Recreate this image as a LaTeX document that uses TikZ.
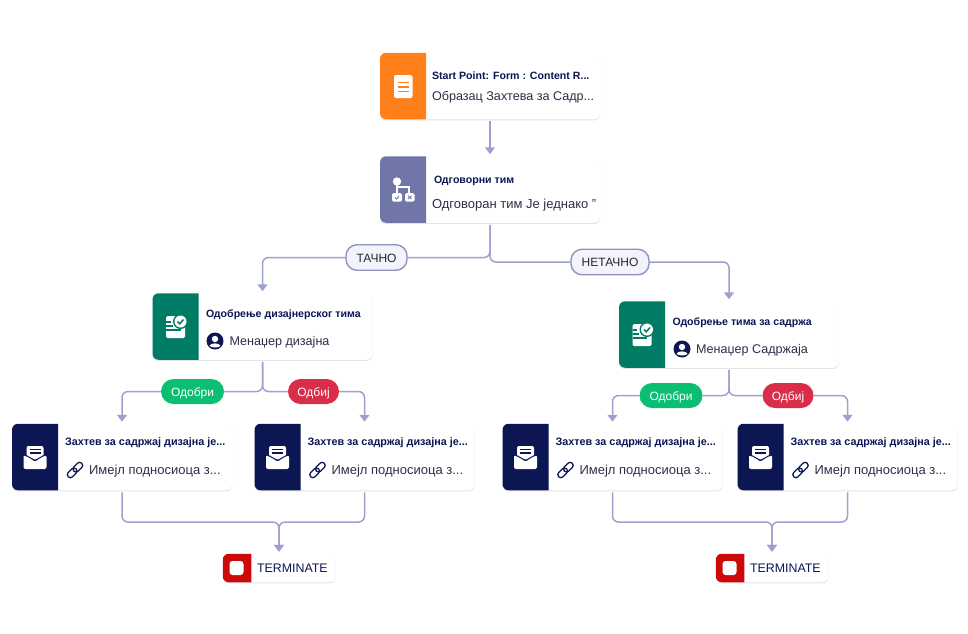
\documentclass[tikz,border=0pt]{standalone}
\usepackage{fontspec}
\setmainfont{Liberation Sans}
\usetikzlibrary{arrows.meta,shadows}
\definecolor{flowline}{HTML}{9CA1CE}
\definecolor{navy}{HTML}{0C1653}
\definecolor{subtext}{HTML}{2C3048}
\definecolor{orangepanel}{HTML}{FF7F1A}
\definecolor{slatepanel}{HTML}{7077A8}
\definecolor{tealpanel}{HTML}{007C65}
\definecolor{redpanel}{HTML}{CC0A0A}
\definecolor{okgreen}{HTML}{0ABF72}
\definecolor{nored}{HTML}{D92D4A}
\definecolor{pillfill}{HTML}{F3F3FB}
\definecolor{pillline}{HTML}{8F93BD}
\tikzset{
    %Define standard arrow tip
    >={Triangle[width=10pt,length=7pt]},
    % Define connector style
    pil/.style={
           color=flowline,
           line width=1.5pt,
           rounded corners=6pt,
           shorten <=2pt,},
    pilarrow/.style={
           pil,
           ->,
           shorten >=2pt,}
}
% left part of a card, square on its right side
\newcommand{\cardpanel}[3]{
    \fill[#3] ([xshift=#2pt]#1.north west) [sharp corners] -- ([xshift=#2pt]#1.south west)
        [rounded corners=6pt] -- (#1.south west) -- (#1.north west) [sharp corners] -- cycle;
}
% white icons, drawn round a centre
\newcommand{\approveicon}[2]{
\begin{scope}[shift={(#1,#2)}]
    \fill[white,rounded corners=1.5pt] (-9.5,-11) -- (2,-11) -- (9.5,-4) -- (9.5,11) -- (-9.5,11) -- cycle;
    \draw[tealpanel,line width=1.1pt] (-9.5,-5) -- (-5,-5) (-9.5,-1) -- (-3,-1) (-9.5,3) -- (5,3);
    \fill[tealpanel] (5,-5.5) circle (7.5);
    \fill[white] (5,-5.5) circle (6);
    \draw[tealpanel,line width=1.5pt] (2,-5.5) -- (4.2,-3.2) -- (8,-7.5);
\end{scope}
}
\newcommand{\personicon}[2]{
\begin{scope}[shift={(#1,#2)}]
    \fill[navy] (0,0) circle (8.5);
    \fill[white] (0,-2) circle (3.2);
    \fill[white] (-5.5,5) .. controls (-5,1.5) and (5,1.5) .. (5.5,5) .. controls (3,7) and (-3,7) .. (-5.5,5);
\end{scope}
}
\newcommand{\mailicon}[2]{
\begin{scope}[shift={(#1,#2)}]
    \fill[white,rounded corners=2pt] (-8.5,-11.5) rectangle (8.5,2);
    \draw[navy,line width=1.2pt] (-5.5,-8) -- (5.5,-8) (-5.5,-4.5) -- (5.5,-4.5);
    \fill[white,rounded corners=2pt] (-11.5,-2.5) -- (0,4) -- (11.5,-2.5) -- (11.5,11.5) -- (-11.5,11.5) -- cycle;
    \draw[navy,line width=1pt] (-11.5,-3.5) -- (0,3) -- (11.5,-3.5);
\end{scope}
}
\newcommand{\linkicon}[2]{
\begin{scope}[shift={(#1,#2)},rotate=45]
    \draw[navy,line width=1.3pt,rounded corners=2.8pt] (-9.5,-3) rectangle (1.5,3);
    \draw[navy,line width=1.3pt,rounded corners=2.8pt] (-1.5,-3) rectangle (9.5,3);
\end{scope}
}
% one e-mail card with its texts
\newcommand{\mailcard}[3]{
    \node[cardbox] (#1) at (#2,#3) {};
    \cardpanel{#1}{46}{navy}
    \mailicon{#2-87}{#3+0.5}
    \node[titletext, font=\fontsize{10.8pt}{11pt}\selectfont\bfseries] (#1title) at (#2-57,#3-11.5) {Захтев за садржај дизајна је...};
    \linkicon{#2-47}{#3+13}
    \node[subtitletext, font=\fontsize{13pt}{14pt}\selectfont] (#1sub) at (#2-33,#3+17.5) {Имејл подносиоца з...};
}
\newcommand{\terminatecard}[3]{
    \node[termbox] (#1) at (#2,#3) {};
    \cardpanel{#1}{28.5}{redpanel}
    \fill[white,rounded corners=3pt] (#2-49.5,#3-7) rectangle (#2-35.5,#3+7);
    \node[termtext] (#1text) at (#2-22,#3+4.5) {TERMINATE};
}

\begin{document}
\begin{tikzpicture}[x=1pt, y=-1pt, outer sep=0pt]
\tikzstyle{cardbox}=[fill=white, rectangle, rounded corners=6pt, minimum height=66.5pt, minimum width=220pt,
    inner sep=0pt, drop shadow={shadow xshift=0pt, shadow yshift=-1.2pt, opacity=0.12, fill=navy}]
%
\tikzstyle{termbox}=[cardbox, minimum height=28.5pt, minimum width=112.5pt]
%
\tikzstyle{titletext}=[anchor=base west, inner sep=0pt, text=navy, font=\fontsize{10.6pt}{11pt}\selectfont\bfseries]
%
\tikzstyle{subtitletext}=[anchor=base west, inner sep=0pt, text=subtext, font=\fontsize{12.6pt}{14pt}\selectfont]
%
\tikzstyle{termtext}=[anchor=base west, inner sep=0pt, text=navy, font=\fontsize{12.4pt}{14pt}\selectfont]
%
\tikzstyle{answerpill}=[draw=pillline, fill=pillfill, rectangle, line width=1.4pt, rounded corners=11pt,
    minimum height=25.5pt, inner sep=0pt, text height=11pt, text depth=1.5pt, text=black!85,
    font=\fontsize{12pt}{14pt}\selectfont]
%
\tikzstyle{choicepill}=[rectangle, rounded corners=12.5pt, minimum height=25pt, inner sep=0pt,
    text height=11pt, text depth=1.5pt, text=white, font=\fontsize{12pt}{14pt}\selectfont]

\useasboundingbox (0,0) rectangle (968,633);

% start and team cards
\node[cardbox] (start) at (490,86) {};
\cardpanel{start}{46}{orangepanel}
\fill[white,rounded corners=2pt] (394,75) rectangle (412.5,98);
\draw[orangepanel,line width=1.8pt] (398,82.5) -- (408.5,82.5) (398,87) -- (408.5,87) (398,91.5) -- (408.5,91.5);
\node[titletext] (starttitle) at (432,79) {Start Point: Form : Content R...};
\node[subtitletext] (startsub) at (432,100.5) {Образац Захтева за Садр...};

\node[cardbox] (team) at (490,189.5) {};
\cardpanel{team}{46}{slatepanel}
\fill[white] (397,181.5) circle (4.2);
\draw[white,line width=2pt] (397,181.5) -- (397,194) (397,187) -- (408.5,187) -- (408.5,194);
\fill[white,rounded corners=1.5pt] (392,193) rectangle (402,201.5);
\fill[white,rounded corners=1.5pt] (405,193) rectangle (414.5,201.5);
\draw[slatepanel,line width=0.9pt] (395,197.5) -- (396.5,199) -- (399,196) (408,195.8) -- (411.5,199) (411.5,195.8) -- (408,199);
\node[titletext] (teamtitle) at (434,183) {Одговорни тим};
\node[subtitletext, font=\fontsize{13pt}{14pt}\selectfont] (teamsub) at (432,208.5) {Одговоран тим Је једнако "};

% approval cards
\node[cardbox] (designapproval) at (262.5,326.5) {};
\cardpanel{designapproval}{46}{tealpanel}
\approveicon{175.5}{327}
\node[titletext] (designtitle) at (206,317) {Одобрење дизајнерског тима};
\personicon{215}{341}
\node[subtitletext] (designsub) at (229.5,345.5) {Менаџер дизајна};

\node[cardbox] (contentapproval) at (729,334.5) {};
\cardpanel{contentapproval}{46}{tealpanel}
\approveicon{642}{335}
\node[titletext] (contenttitle) at (672.5,325) {Одобрење тима за садржа};
\personicon{682}{349}
\node[subtitletext] (contentsub) at (696,353.5) {Менаџер Садржаја};

% e-mail cards
\mailcard{mailA}{122}{457}
\mailcard{mailB}{364.5}{457}
\mailcard{mailC}{612.5}{457}
\mailcard{mailD}{847.5}{457}

\terminatecard{termL}{279}{568}
\terminatecard{termR}{772}{568}

% answers on the connectors
\node[answerpill, minimum width=61pt] (truepill) at (376.5,257.5) {ТАЧНО};
\node[answerpill, minimum width=78pt] (falsepill) at (610,262) {НЕТАЧНО};
\node[choicepill, fill=okgreen, minimum width=63pt] (yesL) at (192.5,391.5) {Одобри};
\node[choicepill, fill=nored, minimum width=51pt] (noL) at (313.5,391.5) {Одбиј};
\node[choicepill, fill=okgreen, minimum width=63pt] (yesR) at (671,395.5) {Одобри};
\node[choicepill, fill=nored, minimum width=51pt] (noR) at (788,395.5) {Одбиј};

\coordinate (joinL) at (279,522);
\coordinate (joinR) at (772,522);

\draw[pilarrow] (start.south) -- (team.north);

\draw[pil] (team.south) |- (truepill.east);
\draw[pil] (team.south) |- (falsepill.west);
\draw[pilarrow,shorten <=0pt] (truepill.west) -| (designapproval.north);
\draw[pilarrow,shorten <=0pt] (falsepill.east) -| (contentapproval.north);

\draw[pil] (designapproval.south) |- (yesL.east);
\draw[pil] (designapproval.south) |- (noL.west);
\draw[pilarrow,shorten <=0pt] (yesL.west) -| (mailA.north);
\draw[pilarrow,shorten <=0pt] (noL.east) -| (mailB.north);

\draw[pil] (contentapproval.south) |- (yesR.east);
\draw[pil] (contentapproval.south) |- (noR.west);
\draw[pilarrow,shorten <=0pt] (yesR.west) -| (mailC.north);
\draw[pilarrow,shorten <=0pt] (noR.east) -| (mailD.north);

\draw[pilarrow] (mailA.south) |- (joinL) -- (termL.north);
\draw[pilarrow] (mailB.south) |- (joinL) -- (termL.north);
\draw[pilarrow] (mailC.south) |- (joinR) -- (termR.north);
\draw[pilarrow] (mailD.south) |- (joinR) -- (termR.north);

\end{tikzpicture}
\end{document}
